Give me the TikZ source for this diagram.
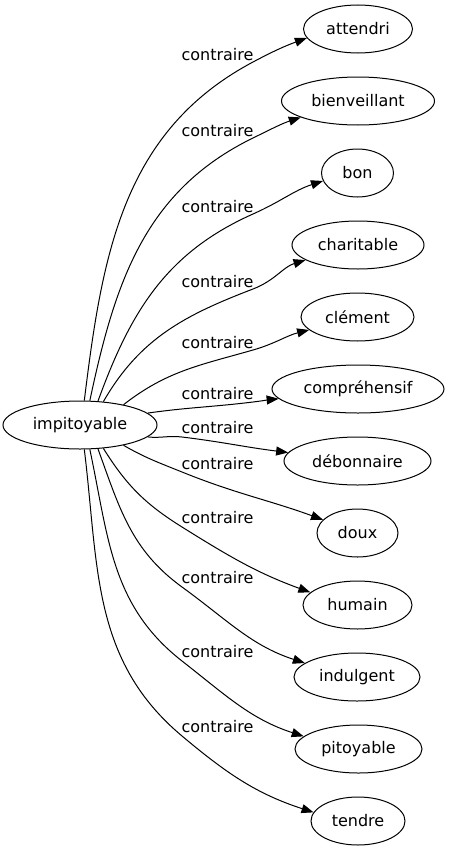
\documentclass[tikz,border=0pt]{standalone}
\usepackage{fontspec}
\setmainfont{DejaVu Sans}
\usetikzlibrary{shapes.geometric,arrows.meta}
\tikzset{
  wnode/.style={draw, ellipse, line width=1bp, inner sep=0pt, minimum height=48bp, font=\fontsize{16bp}{18bp}\selectfont},
  lbl/.style={inner sep=0pt, font=\fontsize{16bp}{18bp}\selectfont},
  edge/.style={draw, line width=1bp, -{Triangle[length=12bp,width=9bp]}},
}
\begin{document}
\begin{tikzpicture}[x=1bp,y=1bp]
\useasboundingbox (0,0) rectangle (449,-851);
\node[wnode, minimum width=154bp] (imp) at (80,-425) {impitoyable};
\node[wnode, minimum width=109bp] (attendri) at (358,-29) {attendri};
\node[wnode, minimum width=153bp] (bienveillant) at (358,-101) {bienveillant};
\node[wnode, minimum width=72bp] (bon) at (357.5,-173) {bon};
\node[wnode, minimum width=132bp] (charitable) at (358,-245) {charitable};
\node[wnode, minimum width=113bp] (clement) at (357.5,-317) {clément};
\node[wnode, minimum width=172bp] (compr) at (358,-389) {compréhensif};
\node[wnode, minimum width=147bp] (debonnaire) at (357.5,-461) {débonnaire};
\node[wnode, minimum width=81bp] (doux) at (357.5,-533) {doux};
\node[wnode, minimum width=109bp] (humain) at (357.5,-605) {humain};
\node[wnode, minimum width=126bp] (indulgent) at (357,-677) {indulgent};
\node[wnode, minimum width=127bp] (pitoyable) at (358.5,-749) {pitoyable};
\node[wnode, minimum width=94bp] (tendre) at (358,-821) {tendre};

\node[lbl] (l1) at (217.5,-55) {contraire};
\node[lbl] (l2) at (217.5,-131) {contraire};
\node[lbl] (l3) at (217.5,-207) {contraire};
\node[lbl] (l4) at (217.5,-282) {contraire};
\node[lbl] (l5) at (217.5,-343) {contraire};
\node[lbl] (l6) at (217.5,-394) {contraire};
\node[lbl] (l7) at (217.5,-428) {contraire};
\node[lbl] (l8) at (217.5,-464) {contraire};
\node[lbl] (l9) at (217.5,-518) {contraire};
\node[lbl] (l10) at (217.5,-578) {contraire};
\node[lbl] (l11) at (217.5,-652) {contraire};
\node[lbl] (l12) at (217.5,-727) {contraire};

\coordinate (v1) at (253,-62);
\coordinate (v2) at (253,-138);
\coordinate (v3) at (253,-214);
\coordinate (v4) at (253,-289);
\coordinate (v5) at (253,-350);
\coordinate (v6) at (253,-402);
\coordinate (v7) at (182,-437);
\coordinate (v8) at (182,-472);
\coordinate (v9) at (182,-527);
\coordinate (v10) at (182,-587);
\coordinate (v11) at (182,-661);
\coordinate (v12) at (182,-736);

\draw[edge] (imp.80) to[out=83,in=208] (v1) to[out=28,in=200] (attendri.190);
\draw[edge] (imp.68) to[out=78,in=206] (v2) to[out=26,in=198] (bienveillant.196);
\draw[edge] (imp.53) to[out=70,in=204] (v3) to[out=24,in=198] (bon.193);
\draw[edge] (imp.45) to[out=60,in=201] (v4) to[out=21,in=197] (charitable.196);
\draw[edge] (imp.25) to[out=38,in=196] (v5) to[out=16,in=194] (clement.195);
\draw[edge] (imp.10) to[out=8,in=187] (v6) to[out=7,in=186] (compr.187);
\draw[edge] (imp.-10) to[out=-6,in=173] (v7) to[out=-7,in=173] (debonnaire.173);
\draw[edge] (imp.-25) to[out=-30,in=158] (v8) to[out=-22,in=160] (doux.159);
\draw[edge] (imp.-45) to[out=-58,in=148] (v9) to[out=-32,in=160] (humain.165);
\draw[edge] (imp.-53) to[out=-70,in=144] (v10) to[out=-36,in=162] (indulgent.165);
\draw[edge] (imp.-68) to[out=-78,in=142] (v11) to[out=-38,in=162] (pitoyable.167);
\draw[edge] (imp.-80) to[out=-83,in=140] (v12) to[out=-40,in=162] (tendre.169);
\end{tikzpicture}
\end{document}
